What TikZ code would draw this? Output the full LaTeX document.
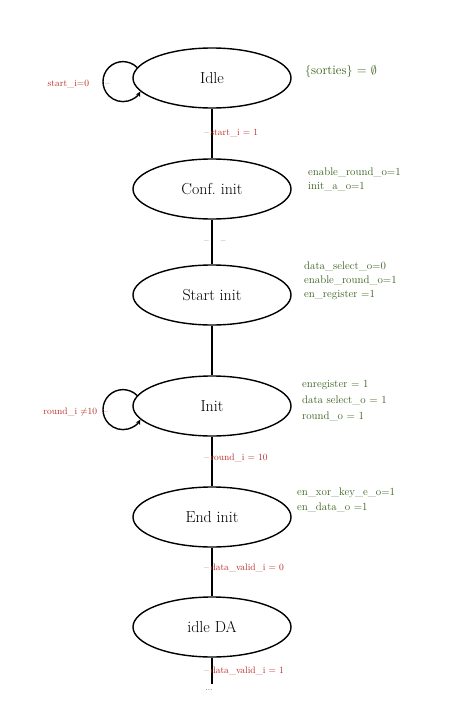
\documentclass[tikz,border=0pt]{standalone}
\usetikzlibrary{arrows.meta,shapes.geometric}
\definecolor{lblred}{RGB}{185,40,35}
\definecolor{lblgreen}{RGB}{55,95,25}
\begin{document}
\begin{tikzpicture}[x=1bp,y=1bp,
  state/.style={draw=black, line width=1.4bp, ellipse, minimum width=158bp, minimum height=60bp,
    inner sep=0pt, font=\fontsize{16}{18}\selectfont},
  conn/.style={draw=black, line width=1.2bp},
  loopconn/.style={draw=black, line width=1.4bp, -{Stealth[length=5bp,width=5bp]}},
  outlbl/.style={text=lblgreen, anchor=west, align=left, inner sep=0pt, font=\fontsize{11}{14}\selectfont},
  condlbl/.style={text=lblred, anchor=west, inner sep=0pt, font=\fontsize{9.5}{11}\selectfont},
  condlbll/.style={condlbl, anchor=east}]
\useasboundingbox (0,0) rectangle (466,-704);

% states
\node[state] (idle)   at (212,-78)  {Idle};
\node[state] (conf)   at (212,-189) {Conf.\ init};
\node[state] (start)  at (212,-295) {Start init};
\node[state] (init)   at (212,-406) {Init};
\node[state] (endi)   at (212,-517) {End init};
\node[state] (idleda) at (212,-627) {idle DA};
\coordinate (tail) at (212,-684);

% transitions
\draw[conn] (idle) -- (conf);
\draw[conn] (conf) -- (start);
\draw[conn] (start) -- (init);
\draw[conn] (init) -- (endi);
\draw[conn] (endi) -- (idleda);
\draw[conn] (idleda) -- (tail);
\node[inner sep=0pt, font=\fontsize{8}{9}\selectfont] (dots) at (209,-690) {...};

% self loops
\draw[loopconn] (idle.172) arc[start angle=45, end angle=330, radius=20];
\draw[loopconn] (init.172) arc[start angle=45, end angle=330, radius=20];

% outputs
\node[outlbl, font=\fontsize{13}{15}\selectfont] (o1) at (305,-72) {$\{$sorties$\}$ = $\emptyset$};
\node[outlbl] (o2) at (308,-179) {enable\_round\_o=1\\init\_a\_o=1};
\node[outlbl] (o3) at (304,-281) {data\_select\_o=0\\enable\_round\_o=1\\en\_register =1};
\node[outlbl, font=\fontsize{11}{16}\selectfont] (o4) at (302,-401) {enregister = 1\\data select\_o = 1\\round\_o = 1};
\node[outlbl, font=\fontsize{11}{15}\selectfont] (o5) at (297,-500) {en\_xor\_key\_e\_o=1\\en\_data\_o =1};

% conditions
\node[condlbll] (c0) at (110,-84) {start\_i=0\hspace{16bp}--};
\node[condlbll] (c3) at (108,-412) {round\_i $\neq$10\hspace{6bp}--};
\node[condlbl] (c1) at (204,-133) {--\,start\_i = 1};
\node[condlbl] (c2) at (204,-242) {--\hspace{12bp}--};
\node[condlbl] (c4) at (204,-458) {--\,round\_i = 10};
\node[condlbl] (c5) at (204,-568) {--\,data\_valid\_i = 0};
\node[condlbl] (c6) at (204,-671) {--\,data\_valid\_i = 1};
\end{tikzpicture}
\end{document}
